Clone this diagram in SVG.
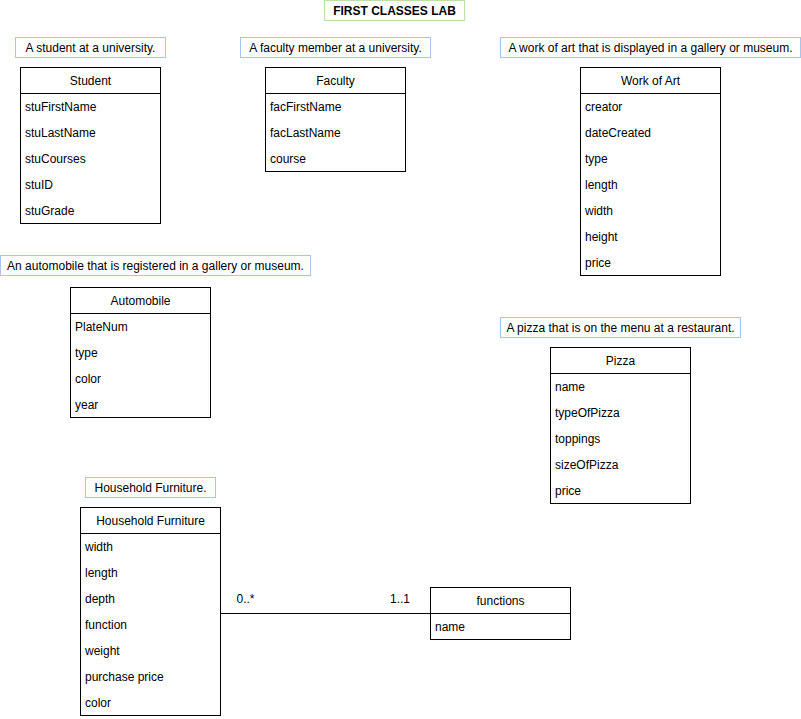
<svg xmlns="http://www.w3.org/2000/svg" width="801" height="719" viewBox="0 0 801 719">
<style>
text{font-family:"Liberation Sans",Arial,sans-serif;font-size:12px;fill:#000}
.c{text-anchor:middle}
.b{font-weight:bold}
.box{fill:#fff;stroke:#000;stroke-width:1}
.lbl{fill:#fff;stroke:#a9c4eb;stroke-width:1}
.ttl{fill:#fff;stroke:#b9e0a5;stroke-width:1}
.ln{stroke:#000;stroke-width:1;fill:none}
</style>
<rect width="801" height="719" fill="#fff"/>
<g id="title"><rect class="ttl" x="324.5" y="0.5" width="140" height="20"/><text class="c b" x="394.5" y="15">FIRST CLASSES LAB</text></g>
<g id="label-student"><rect class="lbl" x="15.5" y="37.5" width="150" height="20"/><text class="c" x="90.5" y="52">A student at a university.</text></g>
<g id="label-faculty"><rect class="lbl" x="240.5" y="37.5" width="190" height="20"/><text class="c" x="335.5" y="52">A faculty member at a university.</text></g>
<g id="label-art"><rect class="lbl" x="500.5" y="37.5" width="300" height="20"/><text class="c" x="650.5" y="52">A work of art that is displayed in a gallery or museum.</text></g>
<g id="label-auto"><rect class="lbl" x="0.5" y="255.5" width="310" height="20"/><text class="c" x="155.5" y="270">An automobile that is registered in a gallery or museum.</text></g>
<g id="label-pizza"><rect class="lbl" x="500.5" y="317.5" width="240" height="20"/><text class="c" x="620.5" y="332">A pizza that is on the menu at a restaurant.</text></g>
<g id="label-furniture"><rect class="lbl" x="85.5" y="477.5" width="130" height="20"/><text class="c" x="150.5" y="492">Household Furniture.</text></g>

<g id="student"><rect class="box" x="20.5" y="67.5" width="140" height="156"/><line class="ln" x1="20.5" y1="93.5" x2="160.5" y2="93.5"/>
<text class="c" x="90.5" y="85">Student</text>
<text x="25" y="111">stuFirstName</text><text x="25" y="137">stuLastName</text><text x="25" y="163">stuCourses</text><text x="25" y="189">stuID</text><text x="25" y="215">stuGrade</text></g>

<g id="faculty"><rect class="box" x="265.5" y="67.5" width="140" height="104"/><line class="ln" x1="265.5" y1="93.5" x2="405.5" y2="93.5"/>
<text class="c" x="335.5" y="85">Faculty</text>
<text x="270" y="111">facFirstName</text><text x="270" y="137">facLastName</text><text x="270" y="163">course</text></g>

<g id="workofart"><rect class="box" x="580.5" y="67.5" width="140" height="208"/><line class="ln" x1="580.5" y1="93.5" x2="720.5" y2="93.5"/>
<text class="c" x="650.5" y="85">Work of Art</text>
<text x="585" y="111">creator</text><text x="585" y="137">dateCreated</text><text x="585" y="163">type</text><text x="585" y="189">length</text><text x="585" y="215">width</text><text x="585" y="241">height</text><text x="585" y="267">price</text></g>

<g id="automobile"><rect class="box" x="70.5" y="287.5" width="140" height="130"/><line class="ln" x1="70.5" y1="313.5" x2="210.5" y2="313.5"/>
<text class="c" x="140.5" y="305">Automobile</text>
<text x="75" y="331">PlateNum</text><text x="75" y="357">type</text><text x="75" y="383">color</text><text x="75" y="409">year</text></g>

<g id="pizza"><rect class="box" x="550.5" y="347.5" width="140" height="156"/><line class="ln" x1="550.5" y1="373.5" x2="690.5" y2="373.5"/>
<text class="c" x="620.5" y="365">Pizza</text>
<text x="555" y="391">name</text><text x="555" y="417">typeOfPizza</text><text x="555" y="443">toppings</text><text x="555" y="469">sizeOfPizza</text><text x="555" y="495">price</text></g>

<g id="furniture"><rect class="box" x="80.5" y="507.5" width="140" height="208"/><line class="ln" x1="80.5" y1="533.5" x2="220.5" y2="533.5"/>
<text class="c" x="150.5" y="525">Household Furniture</text>
<text x="85" y="551">width</text><text x="85" y="577">length</text><text x="85" y="603">depth</text><text x="85" y="629">function</text><text x="85" y="655">weight</text><text x="85" y="681">purchase price</text><text x="85" y="707">color</text></g>

<g id="functions"><rect class="box" x="430.5" y="587.5" width="140" height="52"/><line class="ln" x1="430.5" y1="613.5" x2="570.5" y2="613.5"/>
<text class="c" x="500.5" y="605">functions</text>
<text x="435" y="631">name</text></g>

<g id="connectors"><line class="ln" x1="220.5" y1="613.5" x2="430.5" y2="613.5"/>
<text x="236.5" y="603">0..*</text><text x="410" y="603" text-anchor="end">1..1</text></g>
</svg>
